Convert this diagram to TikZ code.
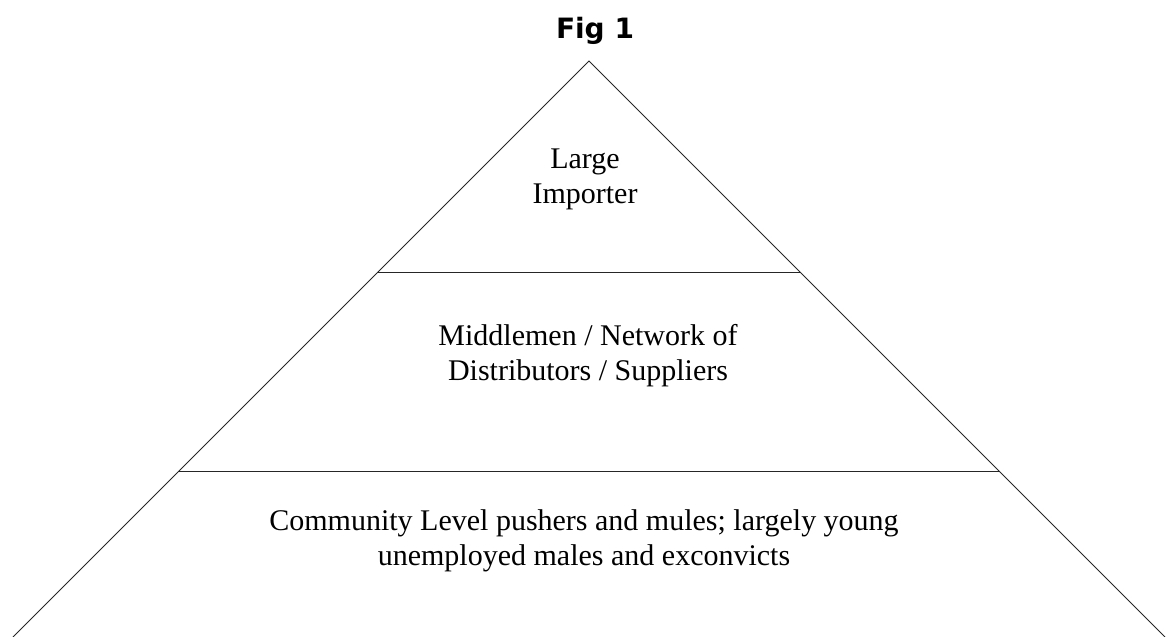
\documentclass[tikz,border=0pt]{standalone}
\usepackage{fontspec}
\setmainfont{Liberation Serif}
\newfontfamily\titlefont{DejaVu Sans}
\begin{document}
\begin{tikzpicture}[x=1pt,y=-1pt,
  edge/.style={line width=0.8pt,black!85},
  tier/.style={anchor=base,align=center,inner sep=0pt,
    font=\fontsize{30}{35}\selectfont},
  heading/.style={anchor=base,inner sep=0pt,
    font=\titlefont\bfseries\fontsize{28}{32}\selectfont}]
  \useasboundingbox (0,0) rectangle (1168,637);
  % outline of the pyramid
  \coordinate (apex) at (589,61);
  \coordinate (bl) at (13,637);
  \coordinate (br) at (1165,637);
  \coordinate (t1l) at (378,272);
  \coordinate (t1r) at (800,272);
  \coordinate (t2l) at (178,471);
  \coordinate (t2r) at (1000,471);
  \draw[edge] (bl) -- (apex) -- (br);
  \draw[edge] (t1l) -- (t1r);
  \draw[edge] (t2l) -- (t2r);
  % title and tier labels (anchored at the baseline of the last line)
  \node[heading] (title) at (595,38) {Fig 1};
  \node[tier] (top) at (585,203) {Large\\Importer};
  \node[tier] (mid) at (588,380) {Middlemen / Network of\\Distributors / Suppliers};
  \node[tier] (base) at (584,565) {Community Level pushers and mules; largely young\\unemployed males and exconvicts};
\end{tikzpicture}
\end{document}
